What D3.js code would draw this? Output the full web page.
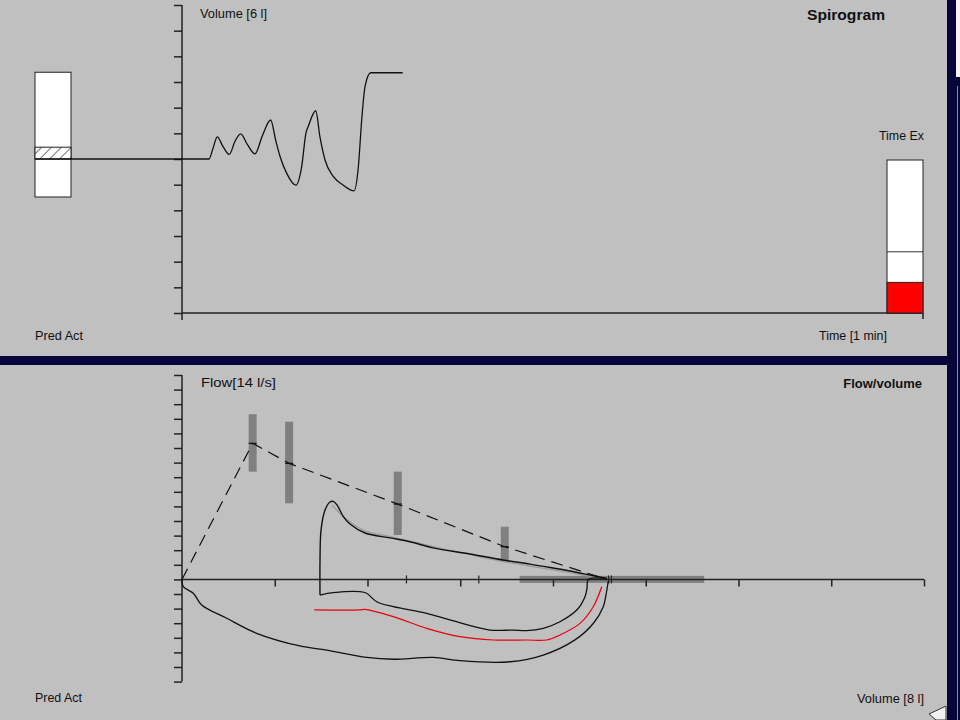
<!DOCTYPE html>
<html><head><meta charset="utf-8">
<script src="https://cdn.jsdelivr.net/npm/d3@7/dist/d3.min.js"></script>
<style>
html,body{margin:0;padding:0;background:#c0c0c0;}
svg{display:block;}
text{font-family:"Liberation Sans",Arial,sans-serif;fill:#111;}
</style></head>
<body>
<script>
// ---------- DATA ----------
// Spirogram: time (s) vs volume (l)
const spiroTime   = [0, 2.19, 2.5, 2.86, 3.3, 3.83, 4.3, 4.75, 5.3, 5.91, 6.5, 7.18, 7.6, 7.94, 8.48, 9.23, 9.69, 10.04, 10.23, 10.83, 11.17, 11.58, 12.25, 13.06, 13.93, 14.28, 14.55, 14.82, 15.28, 17.87];
const spiroVolume = [3.0, 3.0, 3.2, 3.43, 3.25, 3.09, 3.35, 3.49, 3.28, 3.10, 3.45, 3.76, 3.35, 3.05, 2.72, 2.49, 2.85, 3.51, 3.64, 3.94, 3.43, 2.98, 2.66, 2.49, 2.38, 2.85, 3.76, 4.41, 4.68, 4.68];
const volumeBar   = [2.26, 4.69];     // left indicator bar (l)
const volumeHatch = [3.0, 3.23];      // hatched part (l)
const timeExMax = 15, timeExPred = 6, timeExAct = 3;   // Time Ex bar (s)

// Flow / volume
const predVolume = [0, 0.762, 1.155, 2.326, 3.48, 4.58];
const predFlow   = [0, 9.32, 7.95, 5.16, 2.24, 0];
const rangeVolume = [0.762, 1.155, 2.326, 3.48];
const rangeLow    = [7.38, 5.21, 3.04, 1.21];
const rangeHigh   = [11.31, 10.80, 7.38, 3.61];
const fvcRange    = [3.64, 5.63];

const expVolume = [1.488, 1.488, 1.499, 1.542, 1.596, 1.631, 1.671, 1.736, 1.811, 1.973, 2.243, 2.458, 2.706, 3.105, 3.461, 3.752, 4.000, 4.237, 4.399, 4.582];
const expFlow   = [-1.07, 1.33, 3.38, 4.75, 5.30, 5.34, 5.10, 4.34, 3.79, 3.18, 2.84, 2.58, 2.16, 1.74, 1.33, 1.05, 0.78, 0.51, 0.30, 0.06];

const fitVolume = [1.617, 1.757, 1.98, 2.21, 2.78, 3.43, 4.075, 4.51];
const fitFlow   = [5.10, 4.21, 3.30, 2.98, 2.15, 1.26, 0.58, 0.10];

const insp1Volume = [1.488, 1.631, 1.919, 1.991, 2.099, 2.278, 2.638, 2.889, 3.321, 3.572, 3.716, 3.895, 4.075, 4.256, 4.345, 4.367, 4.381, 4.582];
const insp1Flow   = [-1.07, -0.91, -0.84, -0.95, -1.53, -1.87, -2.32, -2.78, -3.47, -3.47, -3.51, -3.35, -2.90, -2.10, -1.18, -0.59, 0.0, 0.06];

const redVolume = [1.426, 1.919, 1.973, 2.278, 2.638, 2.997, 3.356, 3.716, 3.932, 4.075, 4.291, 4.434, 4.525];
const redFlow   = [-2.09, -2.09, -2.05, -2.55, -3.35, -3.92, -4.15, -4.15, -4.15, -3.81, -3.01, -1.87, -0.50];

const outerVolume = [0, 0.014, 0.122, 0.212, 0.482, 0.805, 1.272, 1.560, 1.991, 2.278, 2.709, 2.997, 3.536, 3.895, 4.237, 4.434, 4.542, 4.571, 4.596];
const outerFlow   = [0, -0.50, -0.95, -1.75, -2.66, -3.69, -4.56, -4.84, -5.34, -5.47, -5.34, -5.57, -5.64, -5.18, -4.14, -3.02, -1.87, -1.07, -0.11];

const axisMarks = [2.42, 3.2, 4.60, 4.63];

// ---------- DRAW ----------
const W = 960, H = 720;
const svg = d3.select("body").append("svg").attr("width", W).attr("height", H);

// frame
svg.append("rect").attr("x",0).attr("y",0).attr("width",W).attr("height",H).attr("fill","#c0c0c0");
svg.append("rect").attr("x",0).attr("y",356).attr("width",W).attr("height",9).attr("fill","#06063a");
svg.append("rect").attr("x",947).attr("y",0).attr("width",13).attr("height",H).attr("fill","#06063a");
svg.append("rect").attr("x",956).attr("y",0).attr("width",4).attr("height",77).attr("fill","#f4f4f4");
svg.append("line").attr("x1",957.5).attr("x2",957.5).attr("y1",86).attr("y2",H).attr("stroke","#8a8aa8").attr("stroke-width",1);

const axisColor = "#222";
function label(g, x, y, txt, len, size, opts = {}) {
  const t = g.append("text").attr("x",x).attr("y",y).attr("font-size",size).text(txt);
  if (len) t.attr("textLength",len).attr("lengthAdjust","spacingAndGlyphs");
  if (opts.bold) t.attr("font-weight","bold");
  if (opts.anchor) t.attr("text-anchor",opts.anchor);
  return t;
}

// ===== Spirogram =====
const xT = d3.scaleLinear().domain([0,60]).range([182,923]);
const yT = d3.scaleLinear().domain([0,6]).range([313,5]);

const gTop = svg.append("g");
const yAxT = d3.axisLeft(yT).tickValues(d3.range(0,6.001,0.5)).tickSize(8).tickFormat("");
const gy = gTop.append("g").attr("transform",`translate(${xT(0)},0)`).call(yAxT);
gy.select(".domain").remove();
gy.selectAll("line").attr("stroke",axisColor).attr("stroke-width",1.5);
gTop.append("line").attr("x1",xT(0)).attr("x2",xT(0)).attr("y1",yT(6)).attr("y2",yT(0)+7).attr("stroke",axisColor).attr("stroke-width",1.5);
gTop.append("line").attr("x1",xT(0)).attr("x2",xT(60)).attr("y1",yT(0)).attr("y2",yT(0)).attr("stroke",axisColor).attr("stroke-width",1.5);
gTop.append("line").attr("x1",xT(60)).attr("x2",xT(60)).attr("y1",yT(0)).attr("y2",yT(0)+6).attr("stroke",axisColor).attr("stroke-width",1.5);

// hatch pattern
const defs = svg.append("defs");
const pat = defs.append("pattern").attr("id","hatch").attr("patternUnits","userSpaceOnUse").attr("width",7).attr("height",7)
  .attr("patternTransform","rotate(45)");
pat.append("rect").attr("width",7).attr("height",7).attr("fill","#fff");
pat.append("line").attr("x1",0).attr("y1",0).attr("x2",0).attr("y2",7).attr("stroke","#222").attr("stroke-width",1.3);

// left volume bar
const barX0 = 35, barX1 = 71;
gTop.append("rect").attr("x",barX0).attr("y",yT(volumeBar[1])).attr("width",barX1-barX0).attr("height",yT(volumeBar[0])-yT(volumeBar[1]))
  .attr("fill","#fff").attr("stroke","#222").attr("stroke-width",1);
gTop.append("rect").attr("x",barX0).attr("y",yT(volumeHatch[1])).attr("width",barX1-barX0).attr("height",yT(volumeHatch[0])-yT(volumeHatch[1]))
  .attr("fill","url(#hatch)").attr("stroke","#222").attr("stroke-width",1);
gTop.append("line").attr("x1",barX0).attr("x2",xT(0)).attr("y1",yT(spiroVolume[0])).attr("y2",yT(spiroVolume[0])).attr("stroke","#111").attr("stroke-width",1.3);

// spirogram trace
const spiroLine = d3.line().x(d=>xT(d[0])).y(d=>yT(d[1])).curve(d3.curveMonotoneX);
gTop.append("path").datum(d3.zip(spiroTime, spiroVolume)).attr("d",spiroLine)
  .attr("fill","none").attr("stroke","#111").attr("stroke-width",1.3);

// Time Ex bar
const yEx = d3.scaleLinear().domain([0,timeExMax]).range([313,160]);
const exX0 = 887, exX1 = 923;
gTop.append("rect").attr("x",exX0).attr("y",yEx(timeExMax)).attr("width",exX1-exX0).attr("height",yEx(0)-yEx(timeExMax))
  .attr("fill","#fff").attr("stroke","#222").attr("stroke-width",1);
gTop.append("rect").attr("x",exX0).attr("y",yEx(timeExAct)).attr("width",exX1-exX0).attr("height",yEx(0)-yEx(timeExAct))
  .attr("fill","#ff0000").attr("stroke","#222").attr("stroke-width",1);
gTop.append("line").attr("x1",exX0).attr("x2",exX1).attr("y1",yEx(timeExPred)).attr("y2",yEx(timeExPred)).attr("stroke","#333").attr("stroke-width",1);

label(gTop, 200, 18, "Volume [6 l]", 67, 12.5);
label(gTop, 807, 20, "Spirogram", 78, 15, {bold:true});
label(gTop, 879, 140, "Time Ex", 45, 12.5);
label(gTop, 819, 340, "Time [1  min]", 68, 12.5);
label(gTop, 35, 340, "Pred Act", 48, 12.5);

// ===== Flow / volume =====
const xB = d3.scaleLinear().domain([0,8]).range([182,924]);
const yB = d3.scaleLinear().domain([-7,14]).range([681.6,375]);
const gBot = svg.append("g");

const yAxB = d3.axisLeft(yB).tickValues(d3.range(-7,14.001,1)).tickSize(8).tickFormat("");
const gyb = gBot.append("g").attr("transform",`translate(${xB(0)},0)`).call(yAxB);
gyb.select(".domain").remove();
gyb.selectAll("line").attr("stroke",axisColor).attr("stroke-width",1.5);
gBot.append("line").attr("x1",xB(0)).attr("x2",xB(0)).attr("y1",yB(14)).attr("y2",yB(-7)).attr("stroke",axisColor).attr("stroke-width",1.5);

// FVC range bar (under axis)
gBot.append("rect").attr("x",xB(fvcRange[0])).attr("y",yB(0)-3.5).attr("width",xB(fvcRange[1])-xB(fvcRange[0])).attr("height",7).attr("fill","#808080");

const xAxB = d3.axisBottom(xB).tickValues(d3.range(1,8.001,1)).tickSize(7).tickFormat("");
const gxb = gBot.append("g").attr("transform",`translate(0,${yB(0)})`).call(xAxB);
gxb.select(".domain").remove();
gxb.selectAll("line").attr("stroke",axisColor).attr("stroke-width",1.5);
gBot.append("line").attr("x1",xB(0)).attr("x2",xB(8)).attr("y1",yB(0)).attr("y2",yB(0)).attr("stroke",axisColor).attr("stroke-width",1.5);
gBot.selectAll(".amark").data(axisMarks).join("line").attr("class","amark")
  .attr("x1",d=>xB(d)).attr("x2",d=>xB(d)).attr("y1",yB(0)-4).attr("y2",yB(0)+4).attr("stroke","#222").attr("stroke-width",1.2);

// range bars
gBot.selectAll(".rbar").data(d3.range(rangeVolume.length)).join("rect").attr("class","rbar")
  .attr("x",i=>xB(rangeVolume[i])-4).attr("width",8)
  .attr("y",i=>yB(rangeHigh[i])).attr("height",i=>yB(rangeLow[i])-yB(rangeHigh[i]))
  .attr("fill","#808080");

const fvLine = d3.line().x(d=>xB(d[0])).y(d=>yB(d[1]));
const fvSmooth = d3.line().x(d=>xB(d[0])).y(d=>yB(d[1])).curve(d3.curveCatmullRom.alpha(0.5));

// predicted dashed
gBot.append("path").datum(d3.zip(predVolume, predFlow)).attr("d",fvLine)
  .attr("fill","none").attr("stroke","#111").attr("stroke-width",1.2).attr("stroke-dasharray","12,7");
gBot.selectAll(".ptick").data(d3.range(rangeVolume.length)).join("line").attr("class","ptick")
  .attr("x1",i=>xB(rangeVolume[i])-4).attr("x2",i=>xB(rangeVolume[i])+4)
  .attr("y1",i=>yB(predFlow[i+1])).attr("y2",i=>yB(predFlow[i+1]))
  .attr("stroke","#111").attr("stroke-width",1.2);

// fitted gray
gBot.append("path").datum(d3.zip(fitVolume, fitFlow)).attr("d",fvSmooth)
  .attr("fill","none").attr("stroke","#9a9a9a").attr("stroke-width",1.3);

// measured curves
gBot.append("path").datum(d3.zip(outerVolume, outerFlow)).attr("d",fvSmooth)
  .attr("fill","none").attr("stroke","#111").attr("stroke-width",1.3);
gBot.append("path").datum(d3.zip(redVolume, redFlow)).attr("d",fvSmooth)
  .attr("fill","none").attr("stroke","#e8000a").attr("stroke-width",1.2);
gBot.append("path").datum(d3.zip(insp1Volume, insp1Flow)).attr("d",fvSmooth)
  .attr("fill","none").attr("stroke","#111").attr("stroke-width",1.3);
gBot.append("path").datum(d3.zip(expVolume, expFlow)).attr("d",fvSmooth)
  .attr("fill","none").attr("stroke","#111").attr("stroke-width",1.4);

label(gBot, 201, 387, "Flow[14 l/s]", 75, 12.5);
label(gBot, 922, 388, "Flow/volume", null, 13, {bold:true, anchor:"end"});
label(gBot, 35, 702, "Pred Act", 47, 12.5);
label(gBot, 857, 703, "Volume [8 l]", 67, 12.5);

// cursor artefact bottom-right
svg.append("path").attr("d","M929,714 L946,706 L946,720 L936,720 Z").attr("fill","#f0f0f0").attr("stroke","#333").attr("stroke-width",1);
</script>
</body></html>
